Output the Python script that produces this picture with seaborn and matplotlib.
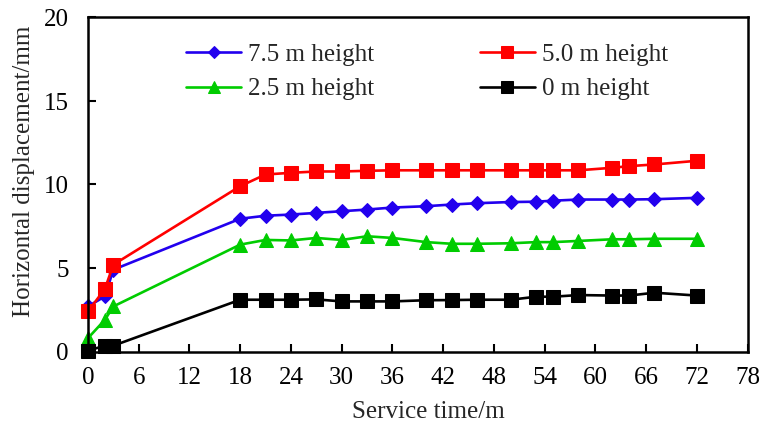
import numpy as np
import pandas as pd
import seaborn as sns
import matplotlib
matplotlib.use("Agg")
import matplotlib.pyplot as plt

time = [0, 2, 3, 18, 21, 24, 27, 30, 33, 36, 40, 43, 46, 50, 53, 55, 58, 62, 64, 67, 72]
h75 = [2.7, 3.3, 4.9, 7.95, 8.13, 8.2, 8.3, 8.4, 8.5, 8.62, 8.7, 8.8, 8.88, 8.95, 8.97, 9.03, 9.1, 9.1, 9.1, 9.12, 9.2]
h50 = [2.4, 3.75, 5.2, 9.9, 10.6, 10.7, 10.78, 10.78, 10.82, 10.85, 10.85, 10.85, 10.85, 10.85, 10.85, 10.85, 10.85, 11.0, 11.1, 11.2, 11.42]
h25 = [0.8, 1.9, 2.7, 6.4, 6.68, 6.65, 6.8, 6.68, 6.9, 6.8, 6.55, 6.45, 6.45, 6.48, 6.55, 6.55, 6.62, 6.72, 6.72, 6.75, 6.75]
h00 = [0.05, 0.35, 0.35, 3.1, 3.1, 3.1, 3.12, 3.0, 3.0, 3.0, 3.07, 3.08, 3.1, 3.1, 3.28, 3.28, 3.38, 3.35, 3.35, 3.52, 3.35]

labels = ["7.5 m height", "2.5 m height", "5.0 m height", "0 m height"]
series = [h75, h25, h50, h00]
colors = ["#2200EE", "#00CC00", "#FF0000", "#000000"]
markers = ["D", "^", "s", "s"]
msizes = [7.5, 10, 9.5, 9.5]

x_ticks = list(range(0, 79, 6))
y_ticks = [0, 5, 10, 15, 20]

sns.set_theme(style="white")
plt.rcParams["font.family"] = ["Liberation Serif", "DejaVu Serif"]

W, H = 760, 423
fig = plt.figure(figsize=(W / 100, H / 100), dpi=100)
ax = fig.add_axes([88 / W, 1 - 351.5 / H, (747.5 - 88) / W, (351.5 - 17.5) / H])

for lab, vals, c, m, ms in zip(labels, series, colors, markers, msizes):
    df = pd.DataFrame({"t": time, "v": vals})
    sns.lineplot(data=df, x="t", y="v", ax=ax, color=c, marker=m, markersize=ms,
                 markeredgecolor=c, linewidth=1.9, label=lab, clip_on=False)

ax.set_xlim(0, 78)
ax.set_ylim(0, 20)
ax.set_xticks(x_ticks)
ax.set_yticks(y_ticks)
ax.tick_params(direction="in", length=6, width=1.5, labelsize=18,
               bottom=True, left=True, colors="black")
ax.tick_params(axis="x", pad=11)
ax.tick_params(axis="y", pad=14)
for s in ax.spines.values():
    s.set_color("black")
    s.set_linewidth(1.8)
ax.set_xlabel("")
ax.set_ylabel("")
fig.text(428 / W, 1 - 412 / H, "Service time/m", fontsize=18, ha="center", va="center")
fig.text(24 / W, 1 - 171 / H, "Horizontal displacement/mm", fontsize=18, ha="center",
         va="center", rotation=90)
ax.grid(False)

leg = ax.legend(ncol=2, frameon=False, fontsize=18, loc="upper left",
                bbox_to_anchor=(186 / W, 1 - 43 / H), bbox_transform=fig.transFigure,
                borderaxespad=0, borderpad=0, handlelength=2.2, handletextpad=0.3,
                columnspacing=4.2, labelspacing=0.5, markerscale=0.85)

fig.savefig("out.png", dpi=100)
